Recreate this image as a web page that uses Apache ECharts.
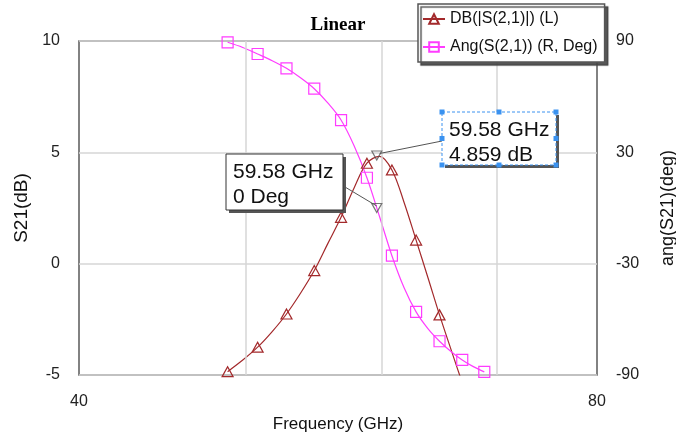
<!DOCTYPE html>
<html><head><meta charset="utf-8">
<script src="https://cdn.jsdelivr.net/npm/echarts@6/dist/echarts.min.js"></script>
<style>html,body{margin:0;padding:0;background:#fff}#c{width:676px;height:441px}</style>
</head><body><div id="c"></div>
<script>
// ---- data ----
const freqGHz = [48.8,49.8,50.8,51.8,52.8,53.8,54.8,55.8,56.8,57.8,58.8,59.8,60.8,61.8,62.8,63.8,64.8,65.8,66.8,67.8,68.8];
const s21dB  = [-4.85,-4.33,-3.75,-3.05,-2.26,-1.33,-0.31,0.90,2.08,3.40,4.51,4.82,4.21,2.75,1.06,-0.62,-2.30,-3.85,-5.35,-6.80,-8.20];
const angDeg = [89.3,86.5,83.0,79.4,75.3,70.2,64.3,56.6,47.4,33.5,16.3,-4.6,-25.7,-43.0,-56.0,-65.0,-71.8,-77.3,-81.9,-85.5,-88.3];
const seriesNames = ['DB(|S(2,1)|) (L)', 'Ang(S(2,1)) (R, Deg)'];
const xRange = [40, 80];
const xGridValues = [50, 60, 70];
const leftRange = [-5, 10];
const leftStep = 5;
const rightRange = [-90, 90];
const rightTickLabels = [-90, -30, 30, 90];
const markerFreq = 59.58;
const markerDB = 4.859;
const markerDeg = 0;
const markerTextDB = ['59.58 GHz', '4.859 dB'];
const markerTextDeg = ['59.58 GHz', '0 Deg'];

const RED = '#a3292b';
const MAG = '#ff3cff';
const FONT = '"Liberation Sans", Arial, sans-serif';

const chart = echarts.init(document.getElementById('c'), null, {renderer: 'canvas'});

function withSymbols(vals) {
  return freqGHz.map((f, i) => i % 2 === 0 ? [f, vals[i]] : {value: [f, vals[i]], symbol: 'none'});
}

const option = {
  backgroundColor: '#fff',
  animation: false,
  title: {
    text: 'Linear', left: 'center', top: 11,
    textStyle: {fontFamily: '"Liberation Serif", "Times New Roman", serif', fontWeight: 'bold', fontSize: 19, color: '#000'}
  },
  legend: {
    data: seriesNames,
    orient: 'vertical', left: 418, top: 4,
    padding: [7, 7, 7, 4], itemGap: 12, itemWidth: 22, itemHeight: 12,
    backgroundColor: '#fff', borderColor: '#555', borderWidth: 1.5,
    shadowColor: 'rgba(70,70,70,0.9)', shadowOffsetX: 3, shadowOffsetY: 3, shadowBlur: 1,
    textStyle: {fontFamily: FONT, fontSize: 16, color: '#111', lineHeight: 16},
    z: 10
  },
  grid: {left: 79, right: 79, top: 41, bottom: 66, show: true, borderColor: '#5a5a5a', borderWidth: 1.5,
    backgroundColor: 'transparent', containLabel: false, outerBoundsMode: 'none'},
  xAxis: {
    type: 'log', logBase: 10, min: xRange[0], max: xRange[1],
    name: 'Frequency (GHz)', nameLocation: 'middle', nameGap: 41,
    nameTextStyle: {fontFamily: FONT, fontSize: 17, color: '#111'},
    axisLine: {show: false}, axisTick: {show: false}, splitLine: {show: false},
    axisLabel: {fontFamily: FONT, fontSize: 16, color: '#222', margin: 19}
  },
  yAxis: [
    {
      type: 'value', min: leftRange[0], max: leftRange[1], interval: leftStep,
      name: 'S21(dB)', nameLocation: 'middle', nameGap: 45, nameRotate: 90,
      nameTextStyle: {fontFamily: FONT, fontSize: 19, color: '#111'},
      axisLine: {show: false}, axisTick: {show: false},
      splitLine: {show: true, lineStyle: {color: '#d6d6d6', width: 1.5}},
      axisLabel: {fontFamily: FONT, fontSize: 16, color: '#222', margin: 19}
    },
    {
      type: 'value', min: rightRange[0], max: rightRange[1], position: 'right',
      name: 'ang(S21)(deg)', nameLocation: 'middle', nameGap: 62, nameRotate: 90,
      nameTextStyle: {fontFamily: FONT, fontSize: 18, color: '#111'},
      axisLine: {show: false}, axisTick: {show: false}, splitLine: {show: false},
      axisLabel: {fontFamily: FONT, fontSize: 16, color: '#222', margin: 19, customValues: rightTickLabels}
    }
  ],
  series: [
    {
      name: 'grid', type: 'line', data: [], silent: true, z: 1,
      markLine: {
        silent: true, symbol: 'none', label: {show: false},
        lineStyle: {color: '#d6d6d6', width: 1.5, type: 'solid'},
        data: xGridValues.map(v => ({xAxis: v}))
      }
    },
    {
      name: seriesNames[0], type: 'line', yAxisIndex: 0, z: 3,
      smooth: 0.35, symbol: 'triangle', symbolSize: [11, 10],
      lineStyle: {color: RED, width: 1.2},
      itemStyle: {color: 'rgba(255,255,255,0)', borderColor: RED, borderWidth: 1.2},
      data: withSymbols(s21dB)
    },
    {
      name: seriesNames[1], type: 'line', yAxisIndex: 1, z: 3,
      smooth: 0.35, symbol: 'rect', symbolSize: 11,
      lineStyle: {color: MAG, width: 1.2},
      itemStyle: {color: 'rgba(255,255,255,0)', borderColor: MAG, borderWidth: 1.2},
      data: withSymbols(angDeg)
    },
    {
      name: 'mkDB', type: 'scatter', yAxisIndex: 0, z: 5, silent: true,
      symbol: 'triangle', symbolRotate: 180, symbolSize: [10, 9],
      itemStyle: {color: 'rgba(255,255,255,0)', borderColor: '#555', borderWidth: 1.2},
      data: [[markerFreq, markerDB]]
    },
    {
      name: 'mkDeg', type: 'scatter', yAxisIndex: 1, z: 5, silent: true,
      symbol: 'triangle', symbolRotate: 180, symbolSize: [10, 9],
      itemStyle: {color: 'rgba(255,255,255,0)', borderColor: '#555', borderWidth: 1.2},
      data: [[markerFreq, markerDeg]]
    }
  ]
};
chart.setOption(option);

const pDB = chart.convertToPixel({seriesIndex: 3}, [markerFreq, markerDB]);
const pDeg = chart.convertToPixel({seriesIndex: 4}, [markerFreq, markerDeg]);

function box(x, y, w, h, lines, dashed) {
  const els = [];
  els.push({type: 'rect', shape: {x: x + 3, y: y + 3, width: w, height: h}, style: {fill: '#555'}, z: 20});
  els.push({type: 'rect', shape: {x: x, y: y, width: w, height: h},
    style: {fill: '#fff', stroke: dashed ? '#3a92f0' : '#333', lineWidth: 1, lineDash: dashed ? [3, 2] : null}, z: 21});
  lines.forEach((t, i) => {
    els.push({type: 'text', x: x + 7, y: y + 18 + i * 25, z: 22,
      style: {text: t, font: '21px ' + FONT, fill: '#111', textVerticalAlign: 'middle', verticalAlign: 'middle'}});
  });
  if (dashed) {
    const hs = [[x, y], [x + w / 2, y], [x + w, y], [x, y + h / 2], [x + w, y + h / 2], [x, y + h], [x + w / 2, y + h], [x + w, y + h]];
    hs.forEach(p => els.push({type: 'rect', shape: {x: p[0] - 2.5, y: p[1] - 2.5, width: 5, height: 5}, style: {fill: '#3a92f0'}, z: 23}));
  }
  return els;
}

const graphics = [];
graphics.push({type: 'line', shape: {x1: 442, y1: 141, x2: pDB[0] + 3, y2: pDB[1] - 2}, style: {stroke: '#555', lineWidth: 1}, z: 19});
graphics.push({type: 'line', shape: {x1: 345, y1: 187, x2: pDeg[0], y2: pDeg[1] - 2}, style: {stroke: '#555', lineWidth: 1}, z: 19});
graphics.push(...box(226, 154, 117, 56, markerTextDeg, false));
graphics.push(...box(442, 112, 114, 53, markerTextDB, true));
chart.setOption({graphic: graphics});
</script>
</body></html>
